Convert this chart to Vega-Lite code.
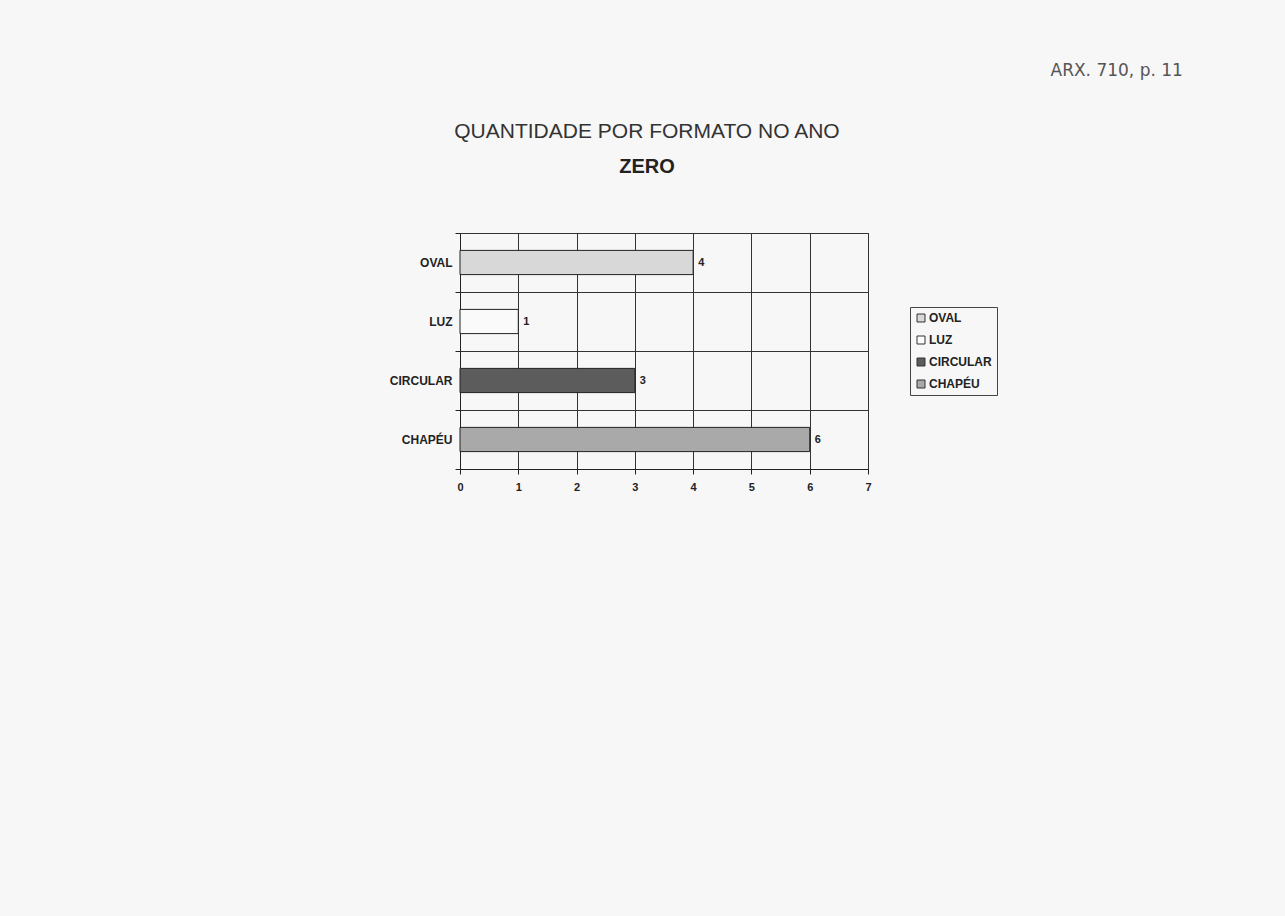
{
  "$schema": "https://vega.github.io/schema/vega-lite/v6.json",
  "width": 408,
  "height": 236,
  "autosize": {"type": "none"},
  "padding": {"left": 460, "top": 233, "right": 417, "bottom": 447},
  "background": "#f7f7f7",
  "title": {
    "text": "QUANTIDADE POR FORMATO NO ANO",
    "subtitle": "ZERO",
    "anchor": "middle",
    "frame": "group",
    "dx": -17,
    "offset": -116,
    "font": "Liberation Sans",
    "fontSize": 21,
    "fontWeight": "normal",
    "color": "#333333",
    "subtitleFont": "Liberation Sans",
    "subtitleFontSize": 20,
    "subtitleFontWeight": "bold",
    "subtitleColor": "#222222",
    "subtitlePadding": 15
  },
  "data": {
    "values": [
      {"formato": "OVAL", "quantidade": 4},
      {"formato": "LUZ", "quantidade": 1},
      {"formato": "CIRCULAR", "quantidade": 3},
      {"formato": "CHAPÉU", "quantidade": 6}
    ]
  },
  "encoding": {
    "y": {
      "field": "formato",
      "type": "nominal",
      "sort": ["OVAL", "LUZ", "CIRCULAR", "CHAPÉU"],
      "scale": {"paddingInner": 0, "paddingOuter": 0},
      "axis": {
        "title": "ARX. 710, p. 11",
        "titleAngle": 0,
        "titleX": 590,
        "titleY": -158,
        "titleAlign": "left",
        "titleBaseline": "alphabetic",
        "titleFont": "DejaVu Sans",
        "titleFontSize": 17,
        "titleFontWeight": "normal",
        "titleColor": "#555555",
        "tickBand": "extent",
        "grid": true,
        "gridColor": "#333333",
        "gridWidth": 1,
        "domainColor": "#222222",
        "tickColor": "#222222",
        "tickSize": 5,
        "labelPadding": 3,
        "labelFont": "Liberation Sans",
        "labelFontSize": 12,
        "labelFontWeight": "bold",
        "labelColor": "#222222"
      }
    },
    "x": {
      "field": "quantidade",
      "type": "quantitative",
      "scale": {"domain": [0, 7], "nice": false},
      "axis": {
        "title": null,
        "values": [0, 1, 2, 3, 4, 5, 6, 7],
        "labelFlush": false,
        "grid": true,
        "gridColor": "#333333",
        "gridWidth": 1,
        "domainColor": "#222222",
        "tickColor": "#222222",
        "tickSize": 5,
        "labelPadding": 7,
        "labelFont": "Liberation Sans",
        "labelFontSize": 11,
        "labelFontWeight": "bold",
        "labelColor": "#222222"
      }
    }
  },
  "layer": [
    {
      "mark": {"type": "bar", "height": {"band": 0.41}, "stroke": "#222222", "strokeWidth": 1},
      "encoding": {
        "color": {
          "field": "formato",
          "type": "nominal",
          "scale": {
            "domain": ["OVAL", "LUZ", "CIRCULAR", "CHAPÉU"],
            "range": ["#d8d8d8", "#fafafa", "#5c5c5c", "#a9a9a9"]
          },
          "legend": {
            "title": null,
            "orient": "none",
            "legendX": 450,
            "legendY": 74,
            "strokeColor": "#444444",
            "padding": 5,
            "symbolType": "square",
            "symbolSize": 64,
            "symbolStrokeColor": "#333333",
            "symbolStrokeWidth": 1,
            "labelFont": "Liberation Sans",
            "labelFontSize": 12,
            "labelFontWeight": "bold",
            "labelColor": "#222222",
            "labelOffset": 2,
            "rowPadding": 10
          }
        }
      }
    },
    {
      "mark": {
        "type": "text",
        "align": "left",
        "baseline": "middle",
        "dx": 5,
        "font": "Liberation Sans",
        "fontSize": 11,
        "fontWeight": "bold",
        "color": "#222222"
      },
      "encoding": {"text": {"field": "quantidade", "type": "quantitative"}}
    }
  ],
  "config": {
    "view": {"stroke": "#222222", "strokeWidth": 1}
  }
}
